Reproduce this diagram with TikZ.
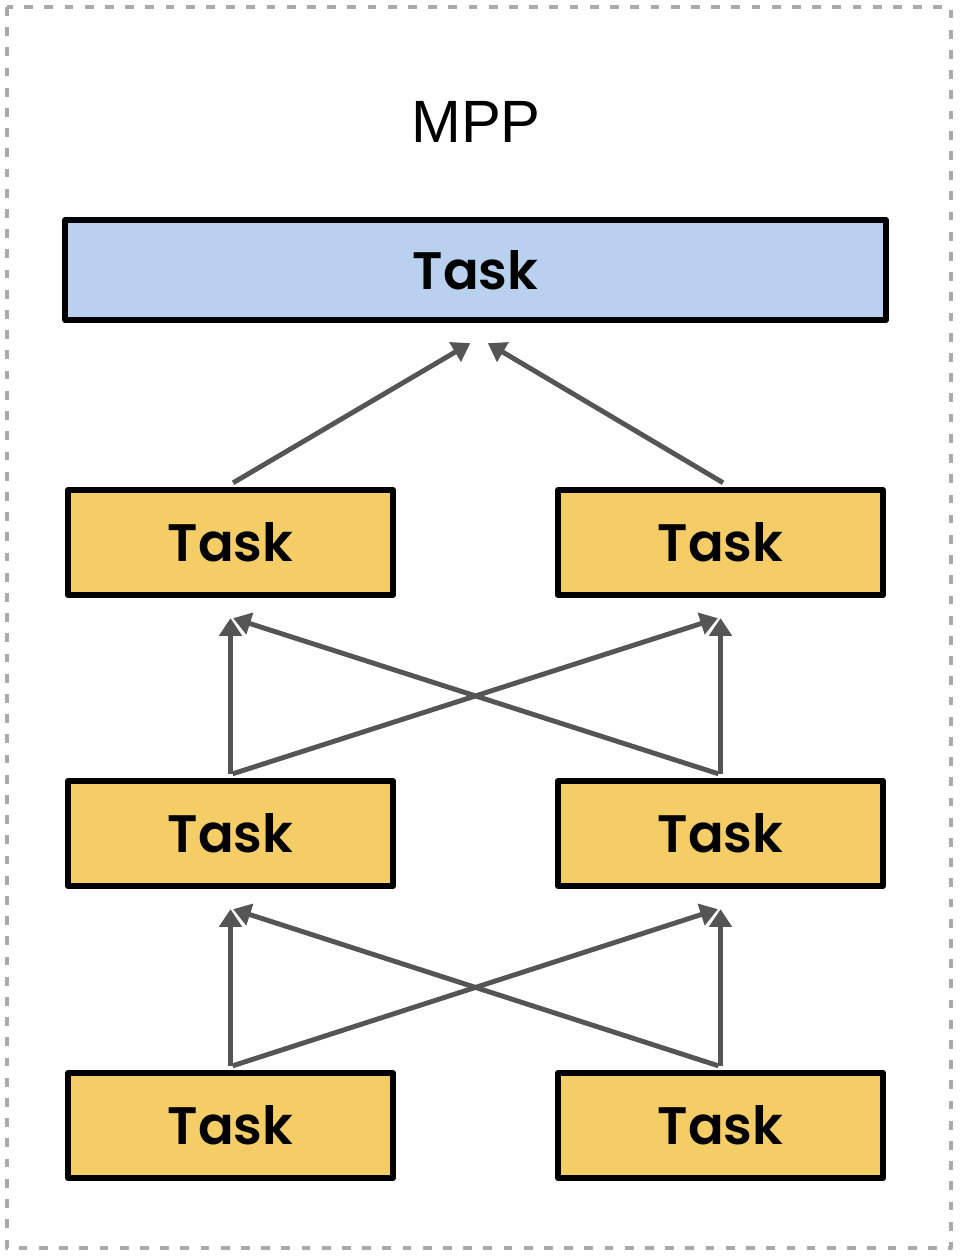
\documentclass[tikz,border=0pt]{standalone}
\usepackage{fontspec}
\setmainfont{Liberation Sans}
\newfontfamily\taskfont{Poppins}[BoldFont={Poppins SemiBold}]
\usetikzlibrary{arrows.meta}
\definecolor{taskblue}{HTML}{B9D1EE}
\definecolor{taskyellow}{HTML}{F4CD67}
\definecolor{arrowgray}{HTML}{555555}
\definecolor{framegray}{HTML}{AAAAAA}
\tikzset{
  taskbox/.style={draw=black, line width=3.4pt, fill=taskyellow, minimum width=6.5cm, minimum height=2.1cm, inner sep=0pt, font=\taskfont\bfseries\fontsize{30}{34}\selectfont},
  flow/.style={draw=arrowgray, line width=2.8pt, -{Triangle[length=10pt,width=12.5pt]}}
}
\begin{document}
\begin{tikzpicture}[x=0.02cm, y=-0.02cm, line join=round]
	\useasboundingbox (0,0) rectangle (960,1260);
	\draw[framegray, line width=2.4pt, dash pattern=on 5pt off 6.5pt] (7,7) rectangle (951,1248);
	\node (mpp) at (476,122) {\fontsize{34}{38}\selectfont MPP};
	% nodes
	\node[taskbox, fill=taskblue, minimum width=16.42cm, minimum height=2.0cm] (top) at (475.5,270) {Task};
	\node[taskbox] (l1) at (230.5,542.5) {Task};
	\node[taskbox] (r1) at (720.5,542.5) {Task};
	\node[taskbox] (l2) at (230.5,833.5) {Task};
	\node[taskbox] (r2) at (720.5,833.5) {Task};
	\node[taskbox] (l3) at (230.5,1125.5) {Task};
	\node[taskbox] (r3) at (720.5,1125.5) {Task};
	% arrows
	\draw[flow] ([xshift=1.5pt,yshift=2.4pt]l1.north) -- ([xshift=-3pt,yshift=-11.5pt]top.south);
	\draw[flow] ([xshift=1.5pt,yshift=2.4pt]r1.north) -- ([xshift=7pt,yshift=-11.5pt]top.south);
	\foreach \lo/\ro/\lu/\ru in {l2/r2/l1/r1, l3/r3/l2/r2} {
		\draw[flow] ([yshift=2.4pt]\lo.north) -- ([yshift=-11.5pt]\lu.south);
		\draw[flow] ([xshift=1.2pt,yshift=2.4pt]\lo.north) -- ([xshift=-1.5pt,yshift=-11.5pt]\ru.south);
		\draw[flow] ([yshift=2.4pt]\ro.north) -- ([yshift=-11.5pt]\ru.south);
		\draw[flow] ([xshift=-1.2pt,yshift=2.4pt]\ro.north) -- ([xshift=1.5pt,yshift=-11.5pt]\lu.south);
	}
\end{tikzpicture}
\end{document}
